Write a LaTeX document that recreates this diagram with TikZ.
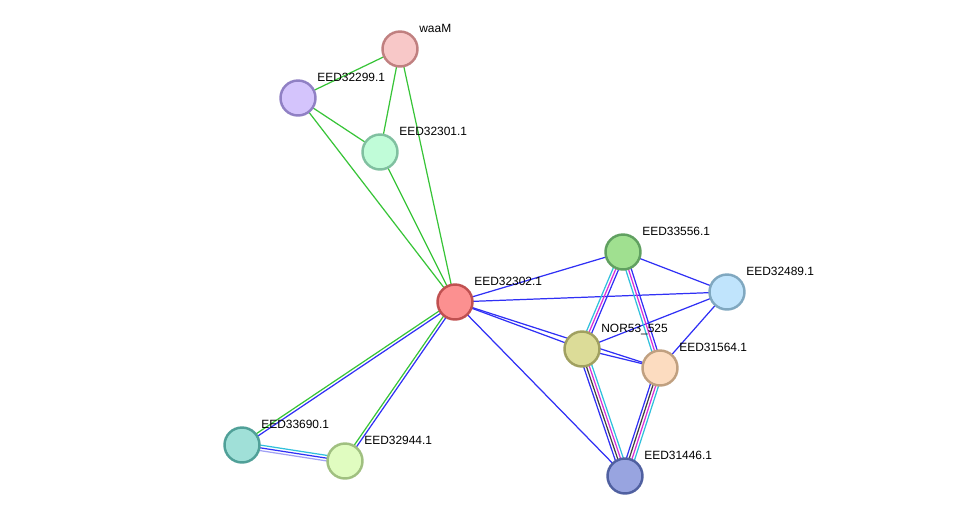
\documentclass[tikz,border=0pt]{standalone}
\usepackage{fontspec}
\setmainfont{Liberation Sans}
\usetikzlibrary{calc,backgrounds}
% edge colours
\definecolor{eGreen}{RGB}{56,196,56}
\definecolor{eBlue}{RGB}{48,48,245}
\definecolor{eCyan}{RGB}{48,192,220}
\definecolor{eMag}{RGB}{216,48,216}
\definecolor{eBlack}{RGB}{64,64,64}
\definecolor{eLav}{RGB}{160,160,245}
% node colours
\definecolor{nWaaM}{RGB}{248,200,200}
\definecolor{nWaaMb}{RGB}{192,128,128}
\definecolor{n299}{RGB}{212,196,252}
\definecolor{n299b}{RGB}{144,128,196}
\definecolor{n301}{RGB}{192,252,216}
\definecolor{n301b}{RGB}{128,192,160}
\definecolor{n302}{RGB}{252,144,144}
\definecolor{n302b}{RGB}{192,80,80}
\definecolor{n556}{RGB}{160,224,144}
\definecolor{n556b}{RGB}{96,160,96}
\definecolor{n489}{RGB}{192,228,252}
\definecolor{n489b}{RGB}{128,168,192}
\definecolor{nNor}{RGB}{220,220,152}
\definecolor{nNorb}{RGB}{160,160,96}
\definecolor{n564}{RGB}{252,220,192}
\definecolor{n564b}{RGB}{192,160,128}
\definecolor{n690}{RGB}{160,224,216}
\definecolor{n690b}{RGB}{80,160,152}
\definecolor{n944}{RGB}{224,252,192}
\definecolor{n944b}{RGB}{160,192,128}
\definecolor{n446}{RGB}{152,164,224}
\definecolor{n446b}{RGB}{80,96,160}
% one strand of an edge, shifted sideways by #3
\newcommand{\strand}[4]{\draw[edge,#4] ($(#1)!#3!90:(#2)$) -- ($(#2)!#3!-90:(#1)$);}

\begin{document}
\begin{tikzpicture}[
        x=0.02cm, y=-0.02cm,
        prot/.style={circle, line width=1.4pt, minimum size=0.7cm, inner sep=0pt},
        lbl/.style={anchor=base west, inner sep=0pt, font=\fontsize{6.8}{8}\selectfont},
        edge/.style={line width=0.7pt},
    ]
        \useasboundingbox (0,0) rectangle (975,522);

        % proteins
        \node[prot, draw=nWaaMb, fill=nWaaM] (waaM) at (400,49) {};
        \node[prot, draw=n299b, fill=n299] (p299) at (298,98) {};
        \node[prot, draw=n301b, fill=n301] (p301) at (380,152) {};
        \node[prot, draw=n302b, fill=n302] (p302) at (455,302) {};
        \node[prot, draw=n556b, fill=n556] (p556) at (623,252) {};
        \node[prot, draw=n489b, fill=n489] (p489) at (727,292) {};
        \node[prot, draw=nNorb, fill=nNor] (nor) at (582,349) {};
        \node[prot, draw=n564b, fill=n564] (p564) at (660,368) {};
        \node[prot, draw=n690b, fill=n690] (p690) at (242,445) {};
        \node[prot, draw=n944b, fill=n944] (p944) at (345,461) {};
        \node[prot, draw=n446b, fill=n446] (p446) at (625,476) {};

        % names
        \node[lbl] (waaM-l) at ($(waaM)+(19,-17)$) {waaM};
        \node[lbl] (p299-l) at ($(p299)+(19,-17)$) {EED32299.1};
        \node[lbl] (p301-l) at ($(p301)+(19,-17)$) {EED32301.1};
        \node[lbl] (p302-l) at ($(p302)+(19,-17)$) {EED32302.1};
        \node[lbl] (p556-l) at ($(p556)+(19,-17)$) {EED33556.1};
        \node[lbl] (p489-l) at ($(p489)+(19,-17)$) {EED32489.1};
        \node[lbl] (nor-l) at ($(nor)+(19,-17)$) {NOR53\_525};
        \node[lbl] (p564-l) at ($(p564)+(19,-17)$) {EED31564.1};
        \node[lbl] (p690-l) at ($(p690)+(19,-17)$) {EED33690.1};
        \node[lbl] (p944-l) at ($(p944)+(19,-17)$) {EED32944.1};
        \node[lbl] (p446-l) at ($(p446)+(19,-17)$) {EED31446.1};

        \begin{scope}[on background layer]
        % neighbourhood links (top cluster)
        \strand{waaM}{p299}{0pt}{eGreen}
        \strand{waaM}{p301}{0pt}{eGreen}
        \strand{waaM}{p302}{0pt}{eGreen}
        \strand{p299}{p301}{0pt}{eGreen}
        \strand{p299}{p302}{0pt}{eGreen}
        \strand{p301}{p302}{0pt}{eGreen}

        % bottom left
        \strand{p302}{p690}{-0.28mm}{eGreen}
        \strand{p302}{p690}{0.28mm}{eBlue}
        \strand{p302}{p944}{-0.28mm}{eGreen}
        \strand{p302}{p944}{0.28mm}{eBlue}
        \strand{p690}{p944}{0.55mm}{eCyan}
        \strand{p690}{p944}{0mm}{eBlue}
        \strand{p690}{p944}{-0.55mm}{eLav}

        % single blue links
        \strand{p302}{p556}{0pt}{eBlue}
        \strand{p302}{p489}{0pt}{eBlue}
        \strand{p302}{nor}{0pt}{eBlue}
        \strand{p302}{p564}{0pt}{eBlue}
        \strand{p302}{p446}{0pt}{eBlue}
        \strand{p556}{p489}{0pt}{eBlue}
        \strand{p489}{nor}{0pt}{eBlue}
        \strand{p489}{p564}{0pt}{eBlue}
        \strand{nor}{p564}{0pt}{eBlue}

        % right cluster bundles
        \strand{p556}{nor}{-0.55mm}{eCyan}
        \strand{p556}{nor}{0mm}{eMag}
        \strand{p556}{nor}{0.55mm}{eBlue}
        \strand{p556}{p564}{-0.55mm}{eCyan}
        \strand{p556}{p564}{0mm}{eMag}
        \strand{p556}{p564}{0.55mm}{eBlue}
        \foreach \src in {nor,p564}{
            \strand{\src}{p446}{-0.83mm}{eBlue}
            \strand{\src}{p446}{-0.28mm}{eBlack}
            \strand{\src}{p446}{0.28mm}{eMag}
            \strand{\src}{p446}{0.83mm}{eCyan}
        }
        \end{scope}
    \end{tikzpicture}
\end{document}
